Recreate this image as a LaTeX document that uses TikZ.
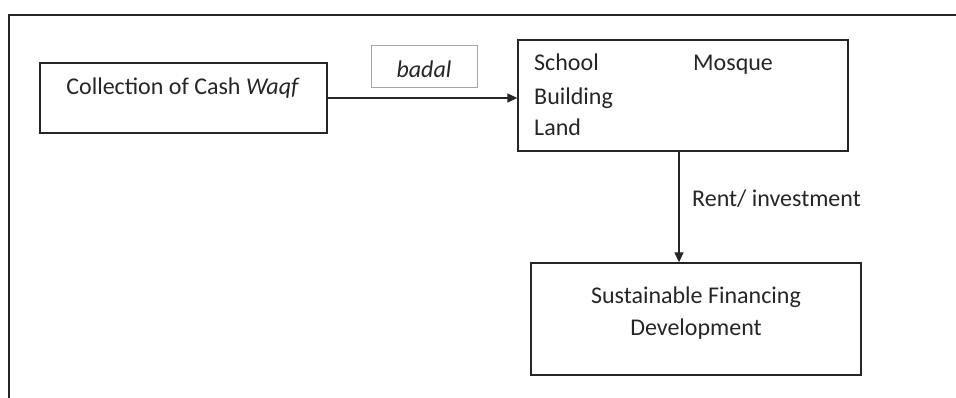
\documentclass[tikz,border=0pt]{standalone}
\usepackage{fontspec}
\setmainfont{Carlito}
\usetikzlibrary{arrows.meta}
\definecolor{ink}{HTML}{262626}
\definecolor{grayline}{HTML}{A6A6A6}
\begin{document}
\begin{tikzpicture}[x=1pt,y=-1pt,
  every node/.style={font=\fontsize{24}{32}\selectfont, text=ink},
  boxnode/.style={draw=ink, line width=1.3pt, minimum width=#1, inner sep=0pt},
  txt/.style={inner sep=0pt},
  conn/.style={draw=ink, line width=1.3pt, -{Triangle[length=10pt,width=9pt]}}]
\useasboundingbox (0,0) rectangle (956,398);
\draw[ink, line width=1.5pt] (9,398) -- (9,15) -- (956,15);
% box 1
\node[boxnode=287pt, minimum height=70pt] (b1) at (183.5,98) {};
\node[txt, anchor=base] (t1) at (183,95) {Collection of Cash \textit{Waqf}};
% badal
\node[draw=grayline, line width=1pt, minimum width=106pt, minimum height=42pt, inner sep=0pt] (bd) at (424,67) {};
\node[txt, anchor=base] (tb) at (424,78) {\textit{badal}};
% box 2
\node[boxnode=330pt, minimum height=111pt] (b2) at (683,95.5) {};
\node[txt, anchor=base west] (s1) at (534,71) {School};
\node[txt, anchor=base west] (s2) at (693,71) {Mosque};
\node[txt, anchor=base west] (s3) at (534,105) {Building};
\node[txt, anchor=base west] (s4) at (534,136) {Land};
% box 3
\node[boxnode=330pt, minimum height=112pt] (b3) at (696,319) {};
\node[txt, anchor=base] (f1) at (696,303) {Sustainable Financing};
\node[txt, anchor=base] (f2) at (696,335) {Development};
% connectors
\coordinate (cx) at (679,0);
\draw[conn] (b1.east) -- (b1.east -| b2.west);
\draw[conn] (b2.south -| cx) -- (b3.north -| cx);
\node[txt, anchor=base west] (rl) at (692,207) {Rent/ investment};
\end{tikzpicture}
\end{document}
